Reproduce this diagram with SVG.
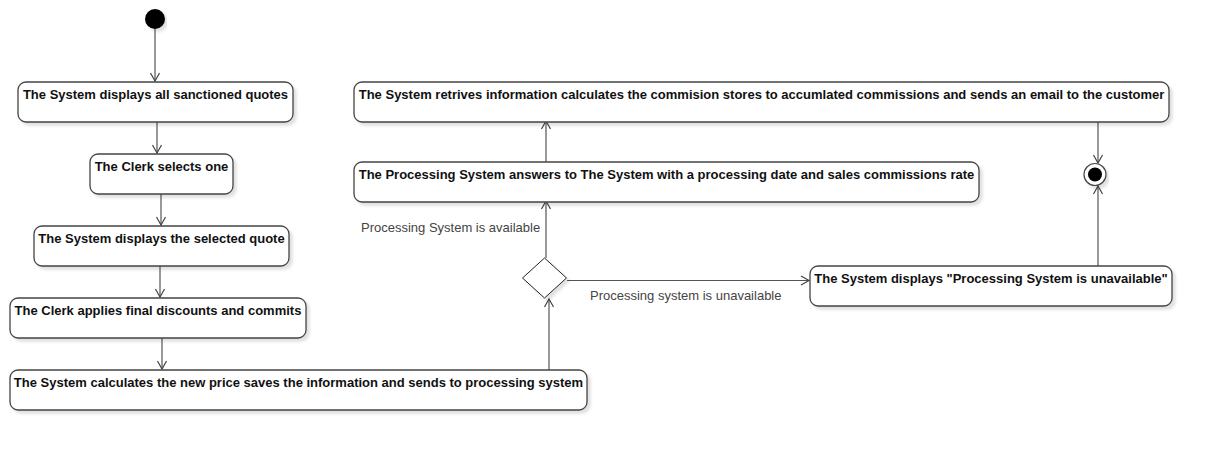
<svg xmlns="http://www.w3.org/2000/svg" width="1212" height="450" viewBox="0 0 1212 450">
<style>
.box{fill:#fff;stroke:#444;stroke-width:1.3}
.t{font-family:"Liberation Sans",Arial,sans-serif;font-size:13px;font-weight:bold;fill:#111;text-anchor:middle}
.lbl{font-family:"Liberation Sans",Arial,sans-serif;font-size:13px;fill:#444}
.edge{fill:none;stroke:#555;stroke-width:1.2}
</style>
<defs>
<filter id="sh" x="-10%" y="-30%" width="120%" height="170%">
<feDropShadow dx="3" dy="3" stdDeviation="1.5" flood-color="#000" flood-opacity="0.12"/>
</filter>
<marker id="arr" markerUnits="userSpaceOnUse" markerWidth="12" markerHeight="12" refX="9" refY="5" orient="auto" viewBox="0 0 12 10">
<path d="M1,0.5 L9,5 L1,9.5" fill="none" stroke="#444" stroke-width="1.2"/>
</marker>
</defs>
<rect width="1212" height="450" fill="#fff"/>
<g id="connectors">
<path class="edge" d="M155,29 V81" marker-end="url(#arr)"/>
<path class="edge" d="M157,122 V153" marker-end="url(#arr)"/>
<path class="edge" d="M161,194 V225" marker-end="url(#arr)"/>
<path class="edge" d="M160,266 V297" marker-end="url(#arr)"/>
<path class="edge" d="M162,338 V369" marker-end="url(#arr)"/>
<path class="edge" d="M549,370 V299" marker-end="url(#arr)"/>
<path class="edge" d="M546,258 V201" marker-end="url(#arr)"/>
<path class="edge" d="M546,162 V121" marker-end="url(#arr)"/>
<path class="edge" d="M567,280.5 H809" marker-end="url(#arr)"/>
<path class="edge" d="M1098,122 V163" marker-end="url(#arr)"/>
<path class="edge" d="M1098,266 V186" marker-end="url(#arr)"/>
<text class="lbl" x="361" y="232">Processing System is available</text>
<text class="lbl" x="590" y="300">Processing system is unavailable</text>
</g>
<g id="start"><circle cx="155" cy="19" r="10" fill="#000" filter="url(#sh)"/></g>
<g id="n1"><rect class="box" x="18" y="82" width="275" height="40" rx="8" filter="url(#sh)"/><text class="t" x="155.5" y="99">The System displays all sanctioned quotes</text></g>
<g id="n2"><rect class="box" x="90" y="154" width="143" height="40" rx="8" filter="url(#sh)"/><text class="t" x="161.5" y="171">The Clerk selects one</text></g>
<g id="n3"><rect class="box" x="34" y="226" width="255" height="40" rx="8" filter="url(#sh)"/><text class="t" x="161.5" y="243">The System displays the selected quote</text></g>
<g id="n4"><rect class="box" x="10" y="298" width="296" height="40" rx="8" filter="url(#sh)"/><text class="t" x="158" y="315">The Clerk applies final discounts and commits</text></g>
<g id="n5"><rect class="box" x="10" y="370" width="577" height="40" rx="8" filter="url(#sh)"/><text class="t" x="298.5" y="387">The System calculates the new price saves the information and sends to processing system</text></g>
<g id="decision"><path d="M544.5,258 L566.5,278 L544.5,298 L522.5,278 Z" fill="#fff" stroke="#222" stroke-width="1" filter="url(#sh)"/></g>
<g id="n6"><rect class="box" x="354" y="162" width="625" height="40" rx="8" filter="url(#sh)"/><text class="t" x="666.5" y="179">The Processing System answers to The System with a processing date and sales commissions rate</text></g>
<g id="n7"><rect class="box" x="354" y="82" width="815" height="40" rx="8" filter="url(#sh)"/><text class="t" x="761.5" y="99">The System retrives information calculates the commision stores to accumlated commissions and sends an email to the customer</text></g>
<g id="n8"><rect class="box" x="810" y="266" width="362" height="40" rx="8" filter="url(#sh)"/><text class="t" x="991" y="283">The System displays "Processing System is unavailable"</text></g>
<g id="end"><circle cx="1095" cy="174.5" r="11" fill="#fff" stroke="#444" stroke-width="1.2" filter="url(#sh)"/><circle cx="1095" cy="174.5" r="7" fill="#000"/></g>
</svg>
